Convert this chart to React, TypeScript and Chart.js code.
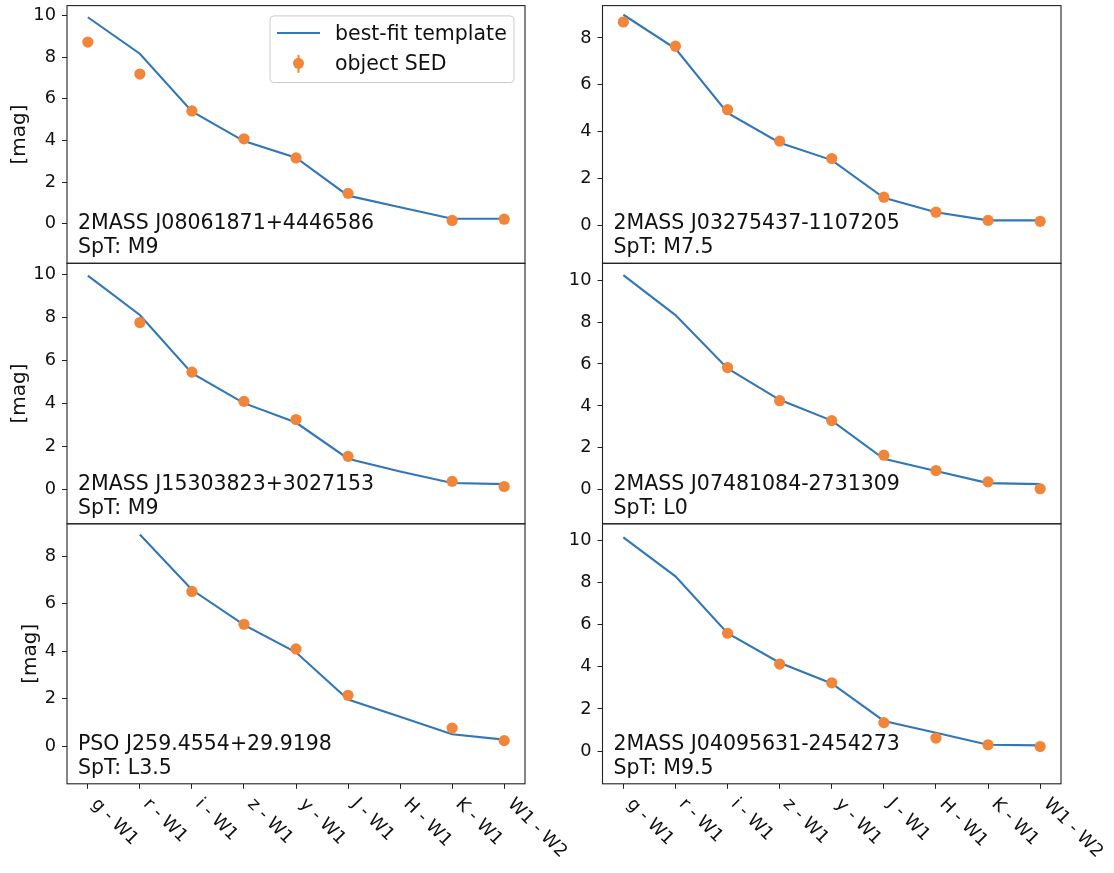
import React, { useEffect, useRef } from 'react';
import { Chart, registerables } from 'chart.js';

Chart.register(...registerables);

// ---- data -----------------------------------------------------------------
const bands = ['g - W1', 'r - W1', 'i - W1', 'z - W1', 'y - W1', 'J - W1', 'H - W1', 'K - W1', 'W1 - W2'];
const yTickValues = [0, 2, 4, 6, 8, 10];

const namesList = [
  '2MASS J08061871+4446586',
  '2MASS J03275437-1107205',
  '2MASS J15303823+3027153',
  '2MASS J07481084-2731309',
  'PSO J259.4554+29.9198',
  '2MASS J04095631-2454273',
];
const sptList = ['SpT: M9', 'SpT: M7.5', 'SpT: M9', 'SpT: L0', 'SpT: L3.5', 'SpT: M9.5'];

// best-fit template colours
const templateJ0806 = [9.92, 8.17, 5.40, 3.97, 3.17, 1.35, 0.79, 0.24, 0.24];
const templateJ0327 = [8.99, 7.55, 4.80, 3.53, 2.79, 1.18, 0.57, 0.22, 0.22];
const templateJ1530 = [9.94, 8.11, 5.41, 4.02, 3.12, 1.44, 0.85, 0.31, 0.26];
const templateJ0748 = [10.24, 8.33, 5.79, 4.29, 3.30, 1.48, 0.90, 0.32, 0.27];
const templatePSO259 = [null, 8.92, 6.59, 5.11, 3.96, 1.97, 1.24, 0.51, 0.28];
const templateJ0409 = [10.14, 8.29, 5.59, 4.19, 3.21, 1.43, 0.87, 0.30, 0.27];

// observed object colours
const sedJ0806 = [8.73, 7.19, 5.42, 4.08, 3.16, 1.46, null, 0.16, 0.22];
const sedJ0327 = [8.68, 7.65, 4.94, 3.60, 2.86, 1.21, 0.57, 0.22, 0.18];
const sedJ1530 = [null, 7.76, 5.46, 4.10, 3.26, 1.55, null, 0.39, 0.15];
const sedJ0748 = [null, null, 5.83, 4.25, 3.30, 1.65, 0.92, 0.38, 0.05];
const sedPSO259 = [null, null, 6.52, 5.14, 4.10, 2.15, null, 0.77, 0.24];
const sedJ0409 = [null, null, 5.59, 4.13, 3.24, 1.35, 0.62, 0.30, 0.22];

// y-axis limits per panel
const yMinList = [-1.90, -1.61, -1.58, -1.62, -1.58, -1.55];
const yMaxList = [10.48, 9.38, 10.51, 10.80, 9.37, 10.78];

const templates = [templateJ0806, templateJ0327, templateJ1530, templateJ0748, templatePSO259, templateJ0409];
const seds = [sedJ0806, sedJ0327, sedJ1530, sedJ0748, sedPSO259, sedJ0409];

// ---- layout & style ---------------------------------------------------------
const W = 1114;
const H = 873;
const COLS = [
  { left: 67, right: 525 },
  { left: 602.5, right: 1061 },
];
const ROWS = [
  { top: 3, bottom: 263.3 },
  { top: 263.3, bottom: 523.8 },
  { top: 523.8, bottom: 783.8 },
];
const Y_AXIS_W = 60;
const X_AXIS_H = 6;
const FONT = "'DejaVu Sans', sans-serif";
const TICK_SIZE = 17.8;
const BLUE = '#3277b6';
const ORANGE = '#f1863a';
const INK = '#111111';

type Val = number | null;

function makeChart(canvas: HTMLCanvasElement, idx: number) {
  const col = idx % 2;
  const row = Math.floor(idx / 2);
  const c = COLS[col];
  const r = ROWS[row];
  const isBottom = row === 2;
  const yMin = yMinList[idx];
  const yMax = yMaxList[idx];

  const framePlugin = {
    id: 'frame',
    afterDraw(chart: any) {
      const { ctx, chartArea: a } = chart;
      ctx.save();
      ctx.strokeStyle = '#222';
      ctx.lineWidth = 1.1;
      ctx.strokeRect(a.left, a.top, a.right - a.left, a.bottom - a.top);
      ctx.restore();
    },
  };

  const labelPlugin = {
    id: 'objectLabel',
    afterDraw(chart: any) {
      const { ctx, chartArea: a } = chart;
      ctx.save();
      ctx.font = `20.5px ${FONT}`;
      ctx.fillStyle = INK;
      ctx.textAlign = 'left';
      ctx.textBaseline = 'alphabetic';
      ctx.fillText(namesList[idx], a.left + 11, a.bottom - 34);
      ctx.fillText(sptList[idx], a.left + 11, a.bottom - 10);
      ctx.restore();
    },
  };

  const bandLabelPlugin = {
    id: 'bandLabels',
    afterDraw(chart: any) {
      if (!isBottom) return;
      const { ctx, chartArea: a } = chart;
      const xs = chart.scales.x;
      ctx.save();
      ctx.font = `${TICK_SIZE}px ${FONT}`;
      ctx.fillStyle = INK;
      ctx.textAlign = 'left';
      ctx.textBaseline = 'top';
      bands.forEach((lab, i) => {
        const px = xs.getPixelForValue(i);
        ctx.save();
        ctx.translate(px + 12.5, a.bottom + 11.5);
        ctx.rotate(Math.PI / 4);
        ctx.fillText(lab, 0, 0);
        ctx.restore();
      });
      ctx.restore();
    },
  };

  const legendPlugin = {
    id: 'sedLegend',
    afterDraw(chart: any) {
      if (idx !== 0) return;
      const { ctx, chartArea: a } = chart;
      const bw = 244;
      const bh = 66.7;
      const bx = a.right - 11 - bw;
      const by = a.top + 10.3;
      ctx.save();
      ctx.beginPath();
      ctx.roundRect(bx, by, bw, bh, 4);
      ctx.fillStyle = 'rgba(255,255,255,0.8)';
      ctx.fill();
      ctx.strokeStyle = '#cccccc';
      ctx.lineWidth = 1;
      ctx.stroke();

      // template line sample
      ctx.strokeStyle = BLUE;
      ctx.lineWidth = 2;
      ctx.beginPath();
      ctx.moveTo(bx + 7, by + 17);
      ctx.lineTo(bx + 50, by + 17);
      ctx.stroke();

      // SED marker with error bar
      const mx = bx + 28.5;
      const my = by + 47.4;
      ctx.strokeStyle = ORANGE;
      ctx.beginPath();
      ctx.moveTo(mx, my - 8.5);
      ctx.lineTo(mx, my + 9.5);
      ctx.stroke();
      ctx.fillStyle = ORANGE;
      ctx.beginPath();
      ctx.arc(mx, my, 5.5, 0, Math.PI * 2);
      ctx.fill();

      ctx.font = `20.5px ${FONT}`;
      ctx.fillStyle = INK;
      ctx.textAlign = 'left';
      ctx.textBaseline = 'alphabetic';
      ctx.fillText('best-fit template', bx + 65, by + 24);
      ctx.fillText('object SED', bx + 65, by + 54);
      ctx.restore();
    },
  };

  const zeroPad = (s: any) => {
    s.paddingLeft = 0;
    s.paddingRight = 0;
    s.paddingTop = 0;
    s.paddingBottom = 0;
  };

  const toPoints = (arr: Val[]) => arr.map((v, i) => ({ x: i, y: v }));

  return new Chart(canvas, {
    type: 'line',
    data: {
      datasets: [
        {
          label: 'object SED',
          data: toPoints(seds[idx]) as any,
          showLine: false,
          pointRadius: 5.6,
          pointBackgroundColor: ORANGE,
          pointBorderColor: ORANGE,
          pointBorderWidth: 0,
          order: 0,
        },
        {
          label: 'best-fit template',
          data: toPoints(templates[idx]) as any,
          borderColor: BLUE,
          borderWidth: 2.1,
          pointRadius: 0,
          tension: 0,
          fill: false,
          order: 1,
        },
      ],
    },
    options: {
      animation: false,
      responsive: false,
      events: [],
      layout: {
        padding: {
          left: c.left - Y_AXIS_W,
          right: W - c.right,
          top: r.top,
          bottom: H - r.bottom - X_AXIS_H,
        },
      },
      plugins: {
        legend: { display: false },
        tooltip: { enabled: false },
        title: { display: false },
      },
      scales: {
        x: {
          type: 'linear',
          min: -0.4,
          max: 8.4,
          bounds: 'data',
          afterBuildTicks: (s: any) => {
            s.ticks = bands.map((_, i) => ({ value: i }));
          },
          ticks: { display: false },
          grid: {
            display: isBottom,
            drawOnChartArea: false,
            drawTicks: true,
            tickLength: 5,
            color: '#222',
            lineWidth: 1,
          },
          border: { display: false },
          afterFit: (s: any) => {
            s.height = X_AXIS_H;
            zeroPad(s);
          },
        },
        y: {
          type: 'linear',
          min: yMin,
          max: yMax,
          bounds: 'data',
          afterBuildTicks: (s: any) => {
            s.ticks = yTickValues.filter((v) => v >= yMin && v <= yMax).map((v) => ({ value: v }));
          },
          ticks: {
            font: { family: FONT, size: TICK_SIZE },
            color: INK,
            padding: 6,
          },
          grid: {
            drawOnChartArea: false,
            drawTicks: true,
            tickLength: 5,
            color: '#222',
            lineWidth: 1,
          },
          border: { display: false },
          title: {
            display: col === 0,
            text: '[mag]',
            color: INK,
            font: { family: FONT, size: 20 },
            padding: { top: row === 2 ? 11.7 : 0.3, bottom: 0 },
          },
          afterFit: (s: any) => {
            s.width = Y_AXIS_W;
            zeroPad(s);
          },
        },
      },
    } as any,
    plugins: [framePlugin, labelPlugin, bandLabelPlugin, legendPlugin],
  });
}

function SedPanel({ idx }: { idx: number }) {
  const ref = useRef<HTMLCanvasElement>(null);
  useEffect(() => {
    if (!ref.current) return;
    const chart = makeChart(ref.current, idx);
    return () => chart.destroy();
  }, [idx]);
  return (
    <canvas
      ref={ref}
      width={W}
      height={H}
      style={{ position: 'absolute', left: 0, top: 0, width: W, height: H }}
    />
  );
}

export default function App() {
  return (
    <div style={{ position: 'absolute', left: 0, top: 0, width: W, height: H, background: '#fff' }}>
      {namesList.map((_, i) => (
        <SedPanel key={i} idx={i} />
      ))}
    </div>
  );
}
